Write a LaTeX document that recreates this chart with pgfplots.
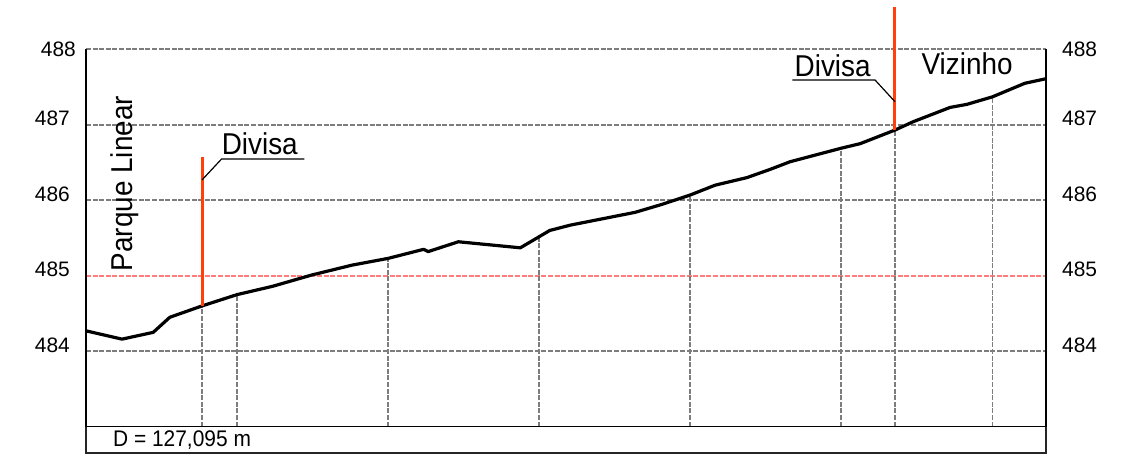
\documentclass[border=0pt]{standalone}
\usepackage{pgfplots}
\pgfplotsset{compat=1.18}
\usepackage{fontspec}
\setmainfont{Liberation Sans}
\definecolor{myred}{RGB}{255,64,10}
\definecolor{lightred}{RGB}{255,125,125}
\definecolor{gridgray}{RGB}{125,125,125}
\newcommand{\bigtxt}[1]{{\fontsize{28}{32}\selectfont\scalebox{1}[1.08]{#1}}}
\begin{document}
\begin{tikzpicture}
\useasboundingbox (0,0) rectangle (1135bp,455bp);
\pgfplotsset{
  base/.style={
    at={(86bp,28.3bp)}, anchor=south west,
    scale only axis, width=960bp, height=377.4bp,
    xmin=0, xmax=127.095, ymin=483, ymax=488,
    clip=false,
    axis line style={draw=none},
    xtick=\empty,
    major tick length=0pt,
    ytick={484,486,487,488},
    extra y ticks={485}, extra y tick labels={485},
    yticklabel style={font=\fontsize{21}{24}\selectfont, inner sep=0pt},
  }
}
\begin{axis}[base,
  yticklabels={484,486,487,{\raisebox{-6bp}[\height][\depth]{488\kern-6bp}}},
  yticklabel style={anchor=east, xshift=-16bp, yshift=6bp},
  ymajorgrids,
  major grid style={draw=gridgray, line width=1.7bp, dash pattern=on 5bp off 1.6bp},
  extra y tick style={major grid style={draw=lightred, line width=1.7bp, dash pattern=on 5bp off 1.6bp}},
]
% vertical stems from bottom to terrain
\addplot[draw=gridgray, line width=1.7bp, dash pattern=on 5bp off 1.6bp, unbounded coords=jump] coordinates {
 (0,483) (0,484.27) (nan,nan)
 (15.36,483) (15.36,484.60) (nan,nan)
 (20,483) (20,484.75) (nan,nan)
 (40,483) (40,485.23) (nan,nan)
 (60,483) (60,485.50) (nan,nan)
 (80,483) (80,486.07) (nan,nan)
 (100,483) (100,486.69) (nan,nan)
 (107.1,483) (107.1,486.93) (nan,nan)
 (120,483) (120,487.37)
};
% terrain profile
\addplot[black, line width=3.2bp, line join=round] coordinates {
(0,484.27) (4.77,484.16) (8.9,484.25) (11.1,484.45) (15.36,484.60)
(20.0,484.75) (24.7,484.86) (29.9,485.01) (35.2,485.14) (40.0,485.23)
(44.7,485.35) (45.3,485.32) (49.3,485.45) (57.5,485.37) (61.4,485.60)
(64.1,485.67) (72.7,485.84) (76.4,485.95) (80.0,486.07) (83.3,486.20)
(87.5,486.30) (90.6,486.41) (93.2,486.51) (100.0,486.69) (102.5,486.75)
(107.1,486.93) (109.5,487.04) (114.4,487.23) (116.6,487.27) (120.0,487.37)
(124.3,487.55) (127.095,487.61)
};
% boundary markers
\addplot[myred, line width=3bp] coordinates {(15.36,484.60) (15.36,486.574)};
\addplot[myred, line width=3bp] coordinates {(107.1,486.93) (107.1,488.564)};
% frame
\draw[black, line width=1.5bp] (axis cs:0,488) -- (axis cs:0,483) -- (axis cs:127.095,483) -- (axis cs:127.095,488);
\draw[black!85, line width=1.5bp] (axis cs:0,483) -- (axis cs:0,482.652) -- (axis cs:127.095,482.652) -- (axis cs:127.095,483);
\node[anchor=west, inner sep=0pt, font=\fontsize{21}{24}\selectfont] at (axis cs:3.57,482.82) {\scalebox{1}[1.08]{D = 127,095 m}};
% leaders
\draw[black, line width=1.2bp] (axis cs:15.36,486.269) -- (axis cs:17.95,486.547) -- (axis cs:28.9,486.547);
\draw[black, line width=1.2bp] (axis cs:107.1,487.306) -- (axis cs:104.46,487.593) -- (axis cs:93.51,487.593);
\node[anchor=base west, inner sep=0pt] at (axis cs:17.95,486.60) {\bigtxt{Divisa}};
\node[anchor=base west, inner sep=0pt] at (axis cs:93.8,487.637) {\bigtxt{Divisa}};
\node[anchor=base west, inner sep=0pt] at (axis cs:110.6,487.66) {\bigtxt{Vizinho}};
\node[rotate=90, inner sep=0pt] at (axis cs:5.16,486.22) {\bigtxt{Parque Linear}};
\end{axis}
\begin{axis}[base,
  yticklabel pos=right,
  yticklabels={484,486,487,{\raisebox{-6bp}[\height][\depth]{488}}},
  yticklabel style={anchor=west, xshift=16bp, yshift=6bp},
]
\end{axis}
\end{tikzpicture}
\end{document}
